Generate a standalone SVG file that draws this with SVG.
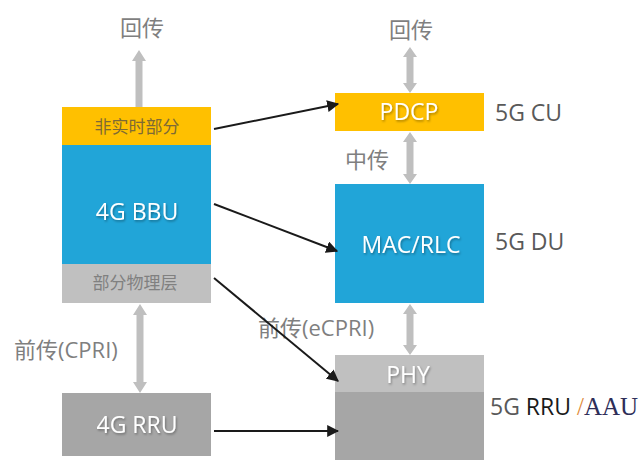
<svg xmlns="http://www.w3.org/2000/svg" width="644" height="460" viewBox="0 0 644 460">
  <defs>
    <style>
      text { font-family: "Open Sans", "Noto Sans CJK SC", sans-serif; }
      .box-label { fill: #ffffff; font-size: 23px; text-anchor: middle; filter: url(#shadow); }
      .side-label { fill: #595959; font-size: 23px; }
      .link-label { fill: #7f7f7f; font-size: 22px; }
      .sub-label { font-size: 17px; text-anchor: middle; }
      .link { stroke: #1a1a1a; stroke-width: 2; fill: none; marker-end: url(#head); }
      .pipe { fill: #bfbfbf; }
    </style>
    <filter id="shadow" x="-10%" y="-20%" width="130%" height="150%">
      <feDropShadow dx="1" dy="1.5" stdDeviation="0.8" flood-color="#000000" flood-opacity="0.35"/>
    </filter>
    <marker id="head" viewBox="0 0 10 10" refX="9" refY="5" markerWidth="6" markerHeight="6" markerUnits="strokeWidth" orient="auto">
      <path d="M0,0 L10,5 L0,10 z" fill="#1a1a1a"/>
    </marker>
  </defs>

  <!-- 4G side -->
  <g id="node-4g-bbu">
    <rect x="62" y="107" width="149" height="38" fill="#ffc000"/>
    <text class="sub-label" x="137" y="133" fill="#7d6a35">非实时部分</text>
    <rect x="62" y="145" width="149" height="119" fill="#21a5d8"/>
    <text class="box-label" x="137" y="220">4G BBU</text>
    <rect x="62" y="264" width="149" height="39" fill="#c0c0c0"/>
    <text class="sub-label" x="135" y="289" fill="#808080">部分物理层</text>
  </g>

  <g id="node-4g-rru">
    <rect x="62" y="393" width="149" height="63" fill="#a6a6a6"/>
    <text class="box-label" x="137" y="433">4G RRU</text>
  </g>

  <!-- 5G side -->
  <g id="node-5g-cu">
    <rect x="335" y="93" width="149" height="38" fill="#ffc000"/>
    <text class="box-label" x="409" y="120">PDCP</text>
    <text class="side-label" x="495" y="121">5G CU</text>
  </g>

  <g id="node-5g-du">
    <rect x="335" y="184" width="149" height="119" fill="#21a5d8"/>
    <text class="box-label" x="411" y="253">MAC/RLC</text>
    <text class="side-label" x="495" y="250">5G DU</text>
  </g>

  <g id="node-5g-rru">
    <rect x="335" y="355" width="149" height="37" fill="#c0c0c0"/>
    <text class="box-label" x="408" y="383">PHY</text>
    <rect x="335" y="392" width="149" height="68" fill="#a6a6a6"/>
    <text x="490" y="415" font-size="23"><tspan fill="#595959">5G </tspan><tspan fill="#1a1a1a">RRU </tspan><tspan font-family="'Liberation Serif', serif" font-size="25" fill="#e08a3a">/</tspan><tspan font-family="'Liberation Serif', serif" font-size="25" fill="#2e2e58">AAU</tspan></text>
  </g>

  <!-- transport labels -->
  <g id="labels">
    <text class="link-label" x="120" y="36">回传</text>
    <text class="link-label" x="389" y="38">回传</text>
    <text class="link-label" x="345" y="168">中传</text>
    <text class="link-label" x="14" y="358" font-size="23">前传(CPRI)</text>
    <text class="link-label" x="258" y="336">前传(eCPRI)</text>
  </g>

  <!-- connectors -->
  <g id="connectors">
    <!-- thick grey transport pipes -->
    <path class="pipe" d="M139,50 L146,61 L142.5,61 L142.5,107 L135.5,107 L135.5,61 L132,61 z"/>
    <path class="pipe" d="M140,304 L147,315 L143.5,315 L143.5,382 L147,382 L140,393 L133,382 L136.5,382 L136.5,315 L133,315 z"/>
    <path class="pipe" d="M410,47 L417,57 L413.5,57 L413.5,83 L417,83 L410,93 L403,83 L406.5,83 L406.5,57 L403,57 z"/>
    <path class="pipe" d="M410,132 L417,142 L413.5,142 L413.5,174 L417,174 L410,184 L403,174 L406.5,174 L406.5,142 L403,142 z"/>
    <path class="pipe" d="M410,304 L417,314 L413.5,314 L413.5,345 L417,345 L410,355 L403,345 L406.5,345 L406.5,314 L403,314 z"/>

    <!-- function split links -->
    <line class="link" x1="214" y1="129" x2="338" y2="104"/>
    <line class="link" x1="214" y1="204" x2="337" y2="251"/>
    <line class="link" x1="214" y1="278" x2="338" y2="381"/>
    <line class="link" x1="214" y1="431" x2="338" y2="431"/>
  </g>
</svg>
